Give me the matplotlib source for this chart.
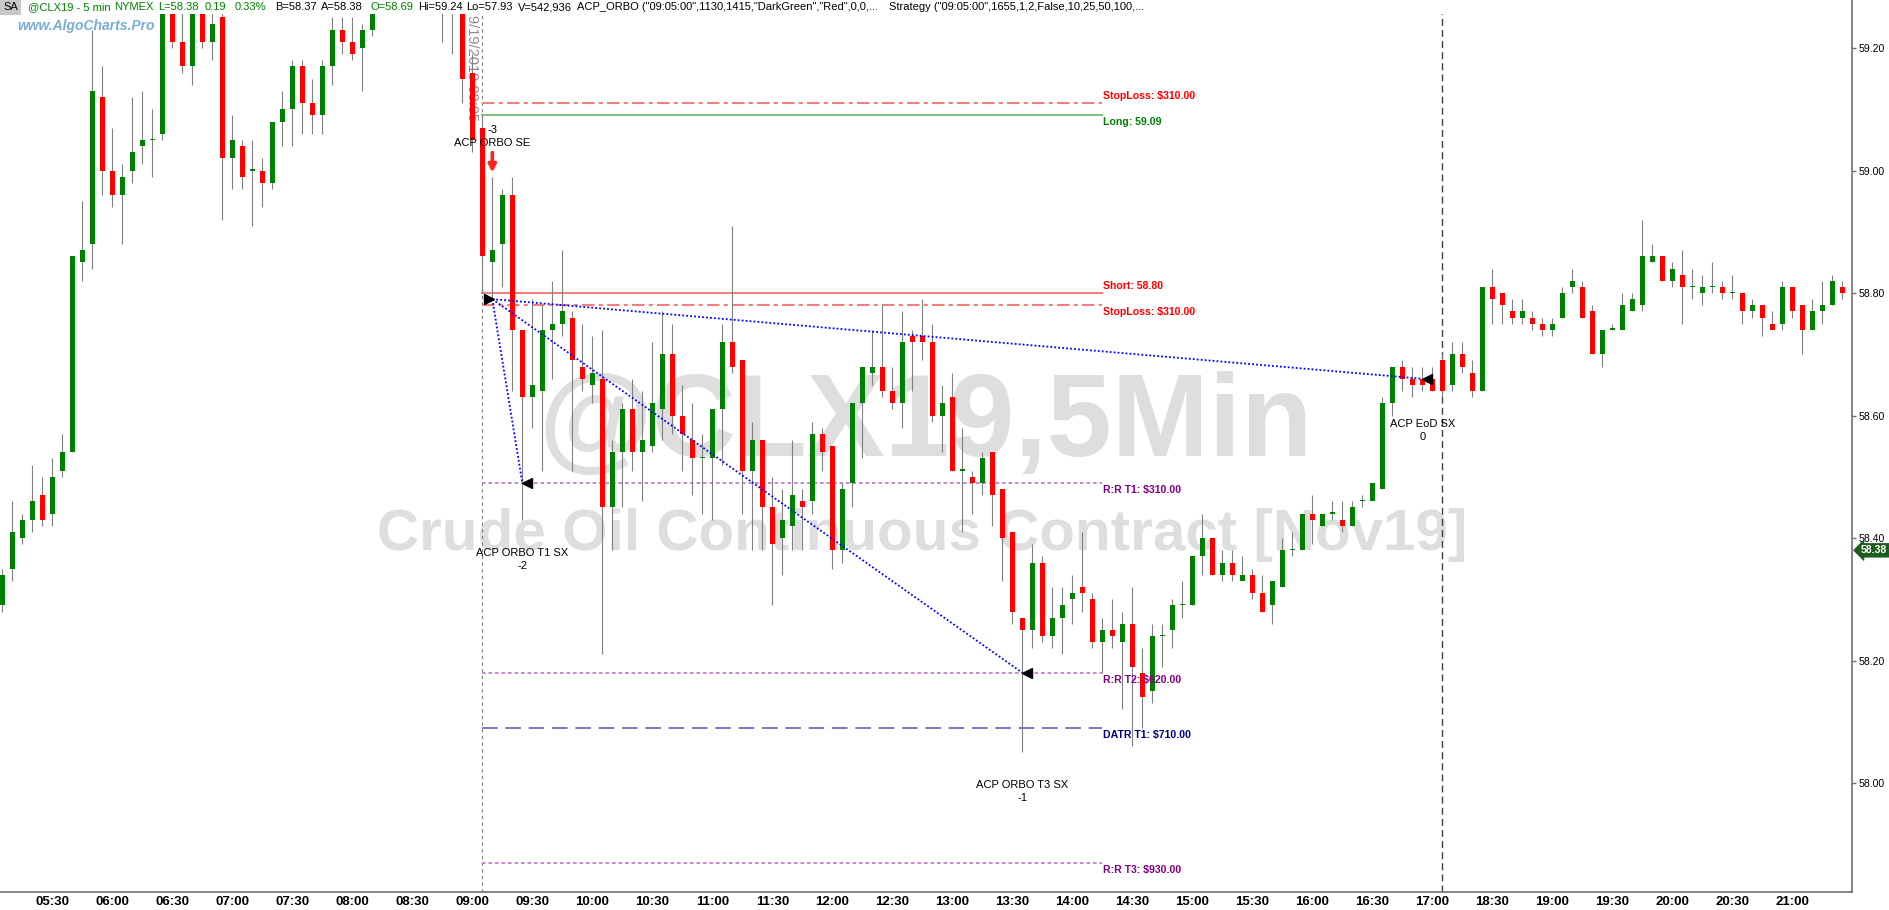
import matplotlib
matplotlib.use("Agg")
import matplotlib.pyplot as plt
import numpy as np
from matplotlib.patches import Rectangle
import matplotlib.transforms as mtransforms

plt.rcParams['font.family'] = ['Liberation Sans', 'DejaVu Sans']

# ---------------- data (5-min bars, @CLX19) ----------------
opens = [58.29, 58.35, 58.40, 58.43, 58.47, 58.44, 58.51, 58.54, 58.85, 58.88,
         59.12, 59.00, 58.96, 59.00, 59.04, 59.05, 59.06, 59.27, 59.21, 59.17,
         59.27, 59.21, 59.25, 59.02, 59.04, 59.00, 59.00, 58.98, 59.08, 59.10,
         59.17, 59.11, 59.09, 59.17, 59.23, 59.21, 59.20, 59.23, 59.28, 59.31,
         59.33, 59.32, 59.34, 59.31, 59.30, 59.28, 59.30, 59.16, 59.07, 58.85,
         58.88, 58.96, 58.74, 58.63, 58.64, 58.74, 58.75, 58.76, 58.68, 58.65,
         58.66, 58.45, 58.54, 58.61, 58.54, 58.55, 58.61, 58.70, 58.60, 58.56,
         58.53, 58.53, 58.61, 58.72, 58.69, 58.51, 58.56, 58.45, 58.40, 58.42,
         58.46, 58.46, 58.57, 58.55, 58.38, 58.49, 58.62, 58.67, 58.68, 58.64,
         58.62, 58.73, 58.73, 58.72, 58.60, 58.63, 58.51, 58.50, 58.49, 58.54,
         58.48, 58.41, 58.27, 58.25, 58.36, 58.24, 58.27, 58.30, 58.32, 58.30,
         58.23, 58.25, 58.23, 58.26, 58.18, 58.15, 58.24, 58.25, 58.29, 58.29,
         58.37, 58.40, 58.34, 58.36, 58.33, 58.34, 58.31, 58.29, 58.32, 58.38,
         58.38, 58.44, 58.42, 58.44, 58.43, 58.42, 58.46, 58.46, 58.48, 58.62,
         58.68, 58.66, 58.66, 58.66, 58.69, 58.65, 58.70, 58.67, 58.64, 58.81,
         58.80, 58.77, 58.76, 58.76, 58.75, 58.74, 58.76, 58.81, 58.81, 58.77,
         58.70, 58.74, 58.74, 58.77, 58.78, 58.85, 58.86, 58.82, 58.83, 58.81,
         58.80, 58.81, 58.81, 58.80, 58.80, 58.77, 58.78, 58.75, 58.75, 58.81,
         58.78, 58.74, 58.77, 58.78, 58.81]
highs = [58.35, 58.46, 58.44, 58.52, 58.50, 58.53, 58.57, 58.86, 58.95, 59.23,
         59.17, 59.07, 59.01, 59.12, 59.13, 59.10, 59.28, 59.28, 59.28, 59.28,
         59.28, 59.28, 59.28, 59.09, 59.05, 59.05, 59.02, 59.08, 59.13, 59.18,
         59.18, 59.15, 59.18, 59.25, 59.25, 59.25, 59.24, 59.29, 59.33, 59.35,
         59.36, 59.35, 59.36, 59.33, 59.31, 59.31, 59.31, 59.19, 59.09, 58.99,
         58.97, 58.99, 58.74, 58.79, 58.78, 58.82, 58.87, 58.77, 58.75, 58.73,
         58.74, 58.56, 58.62, 58.66, 58.64, 58.72, 58.77, 58.75, 58.65, 58.62,
         58.57, 58.61, 58.75, 58.91, 58.69, 58.59, 58.56, 58.50, 58.48, 58.56,
         58.48, 58.59, 58.58, 58.55, 58.49, 58.62, 58.68, 58.74, 58.78, 58.68,
         58.77, 58.74, 58.79, 58.75, 58.65, 58.67, 58.58, 58.51, 58.54, 58.54,
         58.48, 58.41, 58.27, 58.39, 58.37, 58.32, 58.32, 58.34, 58.41, 58.31,
         58.27, 58.30, 58.28, 58.32, 58.22, 58.26, 58.26, 58.30, 58.33, 58.37,
         58.44, 58.40, 58.38, 58.38, 58.37, 58.35, 58.34, 58.33, 58.40, 58.41,
         58.44, 58.47, 58.44, 58.46, 58.46, 58.46, 58.47, 58.49, 58.63, 58.68,
         58.69, 58.68, 58.68, 58.68, 58.70, 58.72, 58.72, 58.69, 58.81, 58.84,
         58.80, 58.79, 58.79, 58.77, 58.76, 58.76, 58.81, 58.84, 58.82, 58.78,
         58.74, 58.75, 58.80, 58.80, 58.92, 58.88, 58.86, 58.85, 58.87, 58.84,
         58.83, 58.85, 58.82, 58.83, 58.80, 58.79, 58.78, 58.77, 58.82, 58.81,
         58.78, 58.79, 58.82, 58.83, 58.82]
lows = [58.28, 58.33, 58.39, 58.41, 58.42, 58.42, 58.50, 58.54, 58.82, 58.84,
        58.96, 58.94, 58.88, 58.98, 59.01, 58.99, 59.05, 59.20, 59.16, 59.14,
        59.20, 59.18, 58.92, 58.97, 58.97, 58.91, 58.94, 58.97, 59.04, 59.04,
        59.06, 59.06, 59.06, 59.14, 59.19, 59.18, 59.13, 59.22, 59.27, 59.29,
        59.30, 59.29, 59.30, 59.28, 59.21, 59.19, 59.11, 59.03, 58.80, 58.79,
        58.81, 58.64, 58.43, 58.58, 58.51, 58.66, 58.73, 58.51, 58.64, 58.62,
        58.21, 58.38, 58.45, 58.51, 58.46, 58.54, 58.56, 58.57, 58.51, 58.47,
        58.44, 58.43, 58.52, 58.67, 58.44, 58.38, 58.38, 58.29, 58.34, 58.38,
        58.38, 58.44, 58.51, 58.35, 58.36, 58.45, 58.53, 58.65, 58.63, 58.61,
        58.58, 58.64, 58.69, 58.59, 58.54, 58.51, 58.41, 58.44, 58.47, 58.42,
        58.33, 58.26, 58.05, 58.22, 58.23, 58.22, 58.21, 58.26, 58.28, 58.22,
        58.18, 58.22, 58.12, 58.06, 58.09, 58.13, 58.19, 58.22, 58.27, 58.29,
        58.34, 58.34, 58.33, 58.33, 58.33, 58.30, 58.28, 58.26, 58.32, 58.37,
        58.38, 58.39, 58.42, 58.43, 58.41, 58.42, 58.45, 58.46, 58.48, 58.60,
        58.64, 58.63, 58.64, 58.64, 58.63, 58.64, 58.67, 58.63, 58.64, 58.75,
        58.75, 58.75, 58.75, 58.74, 58.73, 58.73, 58.76, 58.80, 58.76, 58.70,
        58.68, 58.74, 58.74, 58.77, 58.77, 58.85, 58.82, 58.81, 58.75, 58.79,
        58.78, 58.80, 58.79, 58.79, 58.75, 58.76, 58.73, 58.74, 58.74, 58.76,
        58.70, 58.74, 58.75, 58.78, 58.79]
closes = [58.34, 58.41, 58.43, 58.46, 58.43, 58.50, 58.54, 58.86, 58.87, 59.13,
          59.00, 58.96, 58.99, 59.03, 59.05, 59.05, 59.27, 59.21, 59.17, 59.27,
          59.21, 59.24, 59.02, 59.05, 58.99, 59.00, 58.98, 59.08, 59.10, 59.17,
          59.11, 59.09, 59.17, 59.23, 59.21, 59.19, 59.23, 59.28, 59.31, 59.33,
          59.32, 59.34, 59.31, 59.30, 59.28, 59.30, 59.15, 59.05, 58.86, 58.87,
          58.96, 58.74, 58.63, 58.65, 58.74, 58.75, 58.77, 58.69, 58.66, 58.67,
          58.45, 58.54, 58.61, 58.54, 58.56, 58.62, 58.70, 58.60, 58.57, 58.53,
          58.53, 58.61, 58.72, 58.68, 58.51, 58.56, 58.45, 58.39, 58.43, 58.47,
          58.45, 58.57, 58.54, 58.38, 58.48, 58.62, 58.68, 58.68, 58.64, 58.62,
          58.72, 58.72, 58.72, 58.60, 58.62, 58.51, 58.51, 58.49, 58.53, 58.47,
          58.40, 58.28, 58.25, 58.36, 58.24, 58.27, 58.29, 58.31, 58.31, 58.23,
          58.25, 58.24, 58.26, 58.19, 58.14, 58.24, 58.24, 58.29, 58.29, 58.37,
          58.40, 58.34, 58.36, 58.34, 58.34, 58.31, 58.28, 58.33, 58.38, 58.38,
          58.44, 58.43, 58.44, 58.44, 58.42, 58.45, 58.46, 58.49, 58.62, 58.68,
          58.66, 58.65, 58.65, 58.64, 58.64, 58.70, 58.68, 58.64, 58.81, 58.79,
          58.78, 58.76, 58.77, 58.75, 58.74, 58.75, 58.80, 58.82, 58.76, 58.70,
          58.74, 58.74, 58.78, 58.79, 58.86, 58.86, 58.82, 58.84, 58.81, 58.81,
          58.81, 58.81, 58.80, 58.80, 58.77, 58.78, 58.76, 58.74, 58.81, 58.77,
          58.74, 58.77, 58.78, 58.82, 58.80]

sessions = [("05:05", "17:00"), ("18:05", "21:25")]
tick_labels = ["05:30", "06:00", "06:30", "07:00", "07:30", "08:00", "08:30", "09:00",
               "09:30", "10:00", "10:30", "11:00", "11:30", "12:00", "12:30", "13:00",
               "13:30", "14:00", "14:30", "15:00", "15:30", "16:00", "16:30", "17:00",
               "18:30", "19:00", "19:30", "20:00", "20:30", "21:00"]
price_ticks = [58.00, 58.20, 58.40, 58.60, 58.80, 59.00, 59.20]
last_price = 58.38

level_prices = [59.11, 59.09, 58.80, 58.78, 58.49, 58.18, 58.09, 57.87]
level_texts = ["StopLoss: $310.00", "Long: 59.09", "Short: 58.80", "StopLoss: $310.00",
               "R:R T1: $310.00", "R:R T2: $620.00", "DATR T1: $710.00", "R:R T3: $930.00"]
level_kinds = ["stop", "long", "short", "stop", "rr", "rr", "datr", "rr"]
level_start, level_end = "09:05", "14:15"

entry_time, entry_price, entry_label, entry_pos = "09:10", 58.79, "ACP ORBO SE", "-3"
exit_times = ["09:25", "13:35", "16:55"]
exit_prices = [58.49, 58.18, 58.66]
exit_labels = ["ACP ORBO T1 SX", "ACP ORBO T3 SX", "ACP EoD SX"]
exit_pos = ["-2", "-1", "0"]
session_lines = ["09:05", "18:05"]

# ---------------- helpers ----------------
def hm(s):
    hh, mm = s.split(":")
    return int(hh) * 60 + int(mm)

bar_times = []
for a, b in sessions:
    t = hm(a)
    while t <= hm(b):
        bar_times.append("%02d:%02d" % (t // 60, t % 60))
        t += 5
idx = {t: i for i, t in enumerate(bar_times)}

o = np.array(opens); h = np.array(highs); l = np.array(lows); c = np.array(closes)
n = len(o)
x = np.arange(n)

W, H = 1890, 910
fig = plt.figure(figsize=(W / 100, H / 100), dpi=100)
ax = fig.add_axes([0, 18 / H, 1852 / W, 892 / H])
ax.set_xlim(-0.23, 184.97)
ax.set_ylim(57.82204, 59.27837)
ppx = (59.27837 - 57.82204) / 892.0  # price per pixel

# watermarks
ax.text(92.3, 58.534, "@CLX19,5Min", fontsize=84, fontweight='bold', color='#DEDEDE',
        ha='center', va='baseline', zorder=1)
ax.text(92.0, 58.380, "Crude Oil Continuous Contract [Nov19]", fontsize=42, fontweight='bold',
        color='#DEDEDE', ha='center', va='baseline', zorder=1)

# date label
ax.text(idx["09:00"] - 0.03, 59.278 - 14.5 * ppx, "9/19/2019 09:05", rotation=270, fontsize=10.5,
        color='#8C8C8C', ha='center', va='top', zorder=1.5)

# session lines
ax.axvline(idx[session_lines[0]], color='#808080', lw=0.8, ls=(0, (3, 3)), zorder=1.6)
ax.axvline(idx[session_lines[1]], color='#404040', lw=1.0, ls=(0, (5, 3)), zorder=1.6)

# candles
up = c >= o
ax.vlines(x, l, h, color='#808080', lw=0.8, zorder=3)
body_bottom = np.minimum(o, c)
body_h = np.maximum(np.abs(c - o), 1.3 * ppx)
ax.bar(x, body_h, bottom=body_bottom, width=0.5,
       color=np.where(up, '#008000', '#FF0000'), linewidth=0, zorder=4)

# level lines
styles = {
    "stop": dict(color='#F08080', lw=1.5, ls=(0, (6, 2, 2, 2))),
    "long": dict(color='#80C080', lw=1.5, ls='-'),
    "short": dict(color='#F08080', lw=1.5, ls='-'),
    "rr": dict(color='#C080C8', lw=1.3, ls=(0, (2, 1.6))),
    "datr": dict(color='#7878C0', lw=1.4, ls=(0, (8, 4))),
}
tcolors = {"stop": '#FF0000', "long": '#008000', "short": '#FF0000', "rr": '#800080', "datr": '#000080'}
xs0 = idx[level_start]
xs1 = idx[level_end] - 0.05
for i, (p, t, k) in enumerate(zip(level_prices, level_texts, level_kinds)):
    ax.plot([xs0, xs1], [p, p], zorder=2.5, **styles[k])
    dy = 5.0 if i in (0, 2) else -5.0
    ax.annotate(t, (xs1 + 0.15, p), xytext=(0, dy), textcoords='offset points',
                ha='left', va='center', fontsize=7.6, fontweight='bold', color=tcolors[k], zorder=6)

# trade lines
ex = idx[entry_time]
for tm, pr in zip(exit_times, exit_prices):
    ax.plot([ex, idx[tm]], [entry_price, pr], color='#0000FF', lw=1.3, ls=(0, (1, 1.2)), zorder=5)

# entry marker + arrow + labels
ax.plot(ex - 0.35, entry_price, marker='>', color='black', ms=7, zorder=6, ls='none')
ax.annotate('', xy=(ex, h[ex] + 4 * ppx), xytext=(ex, h[ex] + 24 * ppx),
            arrowprops=dict(arrowstyle='-|>', color='#FF2020', lw=2.6, mutation_scale=11,
                            shrinkA=0, shrinkB=0), zorder=6)
ax.annotate(entry_label, (ex, h[ex]), xytext=(0, 34 * 0.72), textcoords='offset points',
            ha='center', va='center', fontsize=8, zorder=6)
ax.annotate(entry_pos, (ex, h[ex]), xytext=(0, 46.5 * 0.72), textcoords='offset points',
            ha='center', va='center', fontsize=8, zorder=6)

for tm, pr, lab, pos in zip(exit_times, exit_prices, exit_labels, exit_pos):
    k = idx[tm]
    ax.plot(k + 0.45, pr, marker='<', color='black', ms=7, zorder=6, ls='none')
    ax.annotate(lab, (k, l[k]), xytext=(0, -33 * 0.72), textcoords='offset points',
                ha='center', va='center', fontsize=8, zorder=6)
    ax.annotate(pos, (k, l[k]), xytext=(0, -46 * 0.72), textcoords='offset points',
                ha='center', va='center', fontsize=8, zorder=6)

# header band
ax.add_patch(Rectangle((0, 1 - 14 / 892), 0.9993, 14 / 892, transform=ax.transAxes,
                       facecolor='white', edgecolor='none', zorder=10))

# axes styling
for s in ['left', 'top']:
    ax.spines[s].set_visible(False)
for s in ['right', 'bottom']:
    ax.spines[s].set_color('#707070')
    ax.spines[s].set_linewidth(1.2)
ax.spines['right'].set_zorder(12)

ax.set_xticks([idx[t] for t in tick_labels])
ax.set_xticklabels(tick_labels, fontsize=9.5, fontweight='bold',
                   family=['Liberation Sans Narrow', 'Liberation Sans', 'DejaVu Sans'])
ax.tick_params(axis='x', length=0, pad=3)
ax.yaxis.tick_right()
ax.set_yticks(price_ticks)
ax.set_yticklabels(["%.2f" % v for v in price_ticks], fontsize=7.6)
ax.tick_params(axis='y', length=3, width=1, color='#707070', pad=1.5)

# last price marker
trans = mtransforms.blended_transform_factory(ax.transAxes, ax.transData)
ax.text(1 + 9 / 1852, last_price, "%.2f" % last_price, transform=trans, fontsize=7.6,
        fontweight='bold', color='white', ha='left', va='center', zorder=13, clip_on=False,
        bbox=dict(boxstyle='larrow,pad=0.18', fc='#1E5C1E', ec='#1E5C1E', lw=0.5))

# header text
yh = 1 - 7 / H
fig.text(3 / W, yh, "SA", fontsize=8, color='black', va='center', ha='left',
         bbox=dict(boxstyle='square,pad=0.25', fc='#C8C8C8', ec='none'))
header = [
    (28, "@CLX19 - 5 min", '#008000'),
    (114.5, "NYMEX", '#008000'),
    (158.5, "L=58.38", '#008000'),
    (205, "0.19", '#008000'),
    (235, "0.33%", '#008000'),
    (275, "B=58.37", 'black'),
    (321, "A=58.38", 'black'),
    (370.5, "O=58.69", '#008000'),
    (418, "Hi=59.24", 'black'),
    (466.5, "Lo=57.93", 'black'),
    (518, "V=542,936", 'black'),
    (577, 'ACP_ORBO ("09:05:00",1130,1415,"DarkGreen","Red",0,0,...', 'black'),
    (889, 'Strategy ("09:05:00",1655,1,2,False,10,25,50,100,...', 'black'),
]
for px, t, col in header:
    fig.text(px / W, yh, t, fontsize=8, color=col, va='center', ha='left')

fig.text(17 / W, 1 - 26 / H, "www.AlgoCharts.Pro", fontsize=10, fontweight='bold', fontstyle='italic',
         color='#78AED2', va='center', ha='left',
         family=['Liberation Sans Narrow', 'Liberation Sans', 'DejaVu Sans'])

fig.savefig("out.png", dpi=100)
